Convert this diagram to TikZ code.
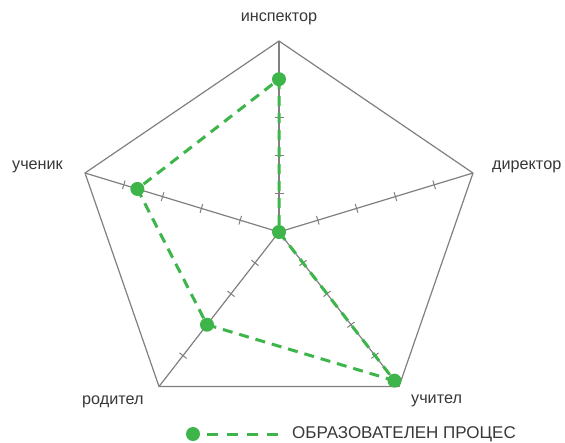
\documentclass[tikz,border=0pt]{standalone}
\usepackage{fontspec}
\setmainfont{Liberation Sans}
\usetikzlibrary{calc}
\definecolor{axisgray}{RGB}{128,128,128}
\definecolor{sergreen}{RGB}{61,181,74}
\definecolor{txtgray}{RGB}{56,56,56}
\tikzset{
  axisline/.style={draw=axisgray, line width=1.2pt},
  tickmark/.style={draw=axisgray, line width=1pt},
  serline/.style={draw=sergreen, line width=3pt, dash pattern=on 10pt off 7pt},
  dot/.style={circle, fill=sergreen, inner sep=0pt, minimum size=14pt},
  lbl/.style={text=txtgray, font=\fontsize{16.2}{19}\selectfont, inner sep=0pt},
}
\begin{document}
\begin{tikzpicture}[x=1pt,y=-1pt]
\useasboundingbox (0,0) rectangle (565,442);
\fill[white] (0,0) rectangle (565,442);
% centre and vertices
\coordinate (O) at (279,232);
\coordinate (V0) at (279,41);
\coordinate (V1) at (473,173);
\coordinate (V2) at (399,386.5);
\coordinate (V3) at (159,386.5);
\coordinate (V4) at (85,173);
% pentagon
\draw[axisline, line join=miter] (V0) -- (V1) -- (V2) -- (V3) -- (V4) -- cycle;
% axes and ticks
\foreach \k in {0,...,4}{
  \draw[axisline] (O) -- (V\k);
  \foreach \t in {1,...,4}{
    \coordinate (T) at ($(O)!\t/5!(V\k)$);
    \draw[tickmark] ($(T)!4.5pt!90:(V\k)$) -- ($(T)!4.5pt!-90:(V\k)$);
  }
}
% data points
\coordinate (P0) at ($(O)!0.8!(V0)$);
\coordinate (P1) at (O);
\coordinate (P2) at ($(O)!0.962!(V2)$);
\coordinate (P3) at ($(O)!0.6!(V3)$);
\coordinate (P4) at ($(O)!0.73!(V4)$);
\draw[serline] (P0) -- (P1) -- (P2) -- (P3) -- (P4) -- cycle;
\foreach \k in {0,...,4}{ \node[dot] (D\k) at (P\k) {}; }
% labels
\node[lbl] (L0) at (279,19) {инспектор};
\node[lbl, anchor=west] (L1) at (492,167) {директор};
\node[lbl, anchor=west] (L2) at (411,401) {учител};
\node[lbl, anchor=west] (L3) at (82,402) {родител};
\node[lbl, anchor=west] (L4) at (12,167) {ученик};
% legend
\node[dot] (LD) at (193,434) {};
\coordinate (LE) at (282,434);
\draw[serline, dash pattern=on 11pt off 9pt, dash phase=-7pt] (LD) -- (LE);
\node[lbl, anchor=west, font=\fontsize{17}{20}\selectfont] (LT) at (292,434) {ОБРАЗОВАТЕЛЕН ПРОЦЕС};
\end{tikzpicture}
\end{document}
